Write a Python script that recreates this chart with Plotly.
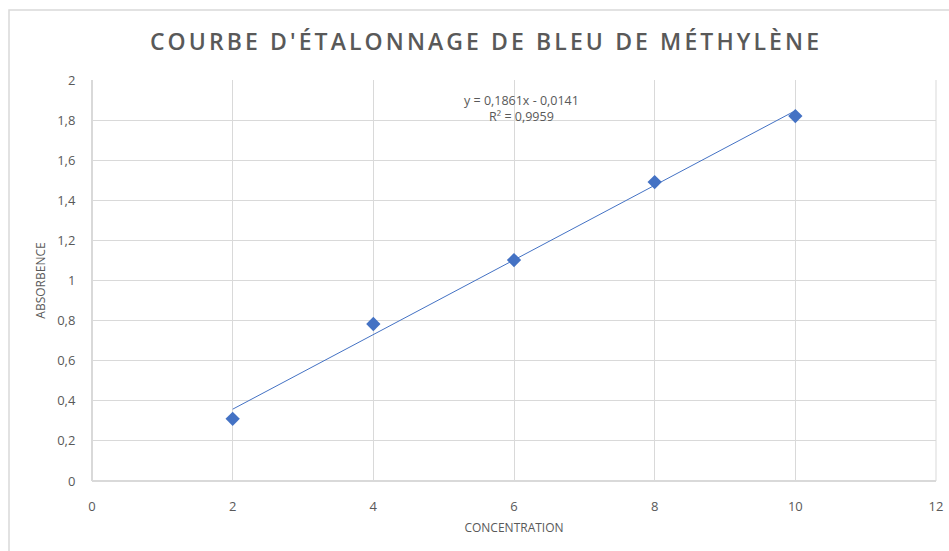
import plotly.graph_objects as go

concentration = [2, 4, 6, 8, 10]
absorbance = [0.31, 0.783, 1.102, 1.491, 1.82]
slope = 0.1861
intercept = -0.0141
r2 = 0.9959
title = "COURBE D'ÉTALONNAGE DE BLEU DE MÉTHYLÈNE"
x_title = "CONCENTRATION"
y_title = "ABSORBENCE"

blue = "#4472C4"
grey = "#595959"
grid = "#d9d9d9"

fit_x = [min(concentration), max(concentration)]
fit_y = [slope * x + intercept for x in fit_x]

fig = go.Figure()
fig.add_trace(go.Scatter(x=fit_x, y=fit_y, mode="lines",
                         line=dict(color=blue, width=1), hoverinfo="skip", showlegend=False))
fig.add_trace(go.Scatter(x=concentration, y=absorbance, mode="markers",
                         marker=dict(symbol="diamond", size=11, color=blue), showlegend=False))

W, H = 949, 551
L, R, T, B = 92, 13, 80, 70
pw, ph = W - L - R, H - T - B

fig.add_shape(type="rect", xref="paper", yref="paper",
              x0=(9 - L) / pw, x1=(W + 5 - L) / pw,
              y0=-(H + 5 - (H - B)) / ph, y1=1 + (T - 10) / ph,
              line=dict(color=grid, width=1.5), layer="below")

fig.add_annotation(text=f"y = {slope:.4f}x - {abs(intercept):.4f}".replace(".", ",") + "<br>" +
                   f"R² = {r2:.4f}".replace(".", ","),
                   xref="paper", yref="paper",
                   x=(521 - L) / pw, y=1 - (108.5 - T) / ph,
                   xanchor="center", yanchor="middle",
                   showarrow=False, align="center",
                   font=dict(size=12.5, color=grey, family="Open Sans"))

fig.update_layout(
    width=W, height=H,
    margin=dict(l=L, r=R, t=T, b=B, autoexpand=False),
    paper_bgcolor="white", plot_bgcolor="white",
    separators=", ",
    title=dict(text=title, x=486 / W, xanchor="center", y=1 - 42 / H, yanchor="middle",
               font=dict(family="Open Sans", size=23, color=grey, weight=600)),
    font=dict(family="Open Sans", color=grey, size=13),
    xaxis=dict(range=[0, 12], dtick=2, tick0=0, showgrid=True, gridcolor=grid, gridwidth=1,
               zeroline=True, zerolinecolor=grid, showline=False,
               ticks="outside", ticklen=13, tickcolor="rgba(0,0,0,0)",
               title=dict(text=x_title, font=dict(size=12, color=grey), standoff=10),
               tickfont=dict(size=13, color=grey), fixedrange=True),
    yaxis=dict(range=[0, 2], dtick=0.2, tick0=0, showgrid=True, gridcolor=grid, gridwidth=1,
               zeroline=True, zerolinecolor=grid, showline=False,
               ticks="outside", ticklen=13, tickcolor="rgba(0,0,0,0)",
               title=dict(text=y_title, font=dict(size=12, color=grey), standoff=8),
               tickfont=dict(size=13, color=grey), tickformat="~r", fixedrange=True),
)
fig.add_shape(type="line", xref="paper", yref="paper", x0=1, x1=1, y0=0, y1=1,
              line=dict(color=grid, width=1), layer="below")

post = """
document.body.style.margin = '0';
document.documentElement.style.overflow = 'hidden';
var t = document.querySelector('.gtitle');
if (t) { t.style.letterSpacing = '3.1px'; }
"""
fig.write_html("out.html", post_script=post, config={"displayModeBar": False})
